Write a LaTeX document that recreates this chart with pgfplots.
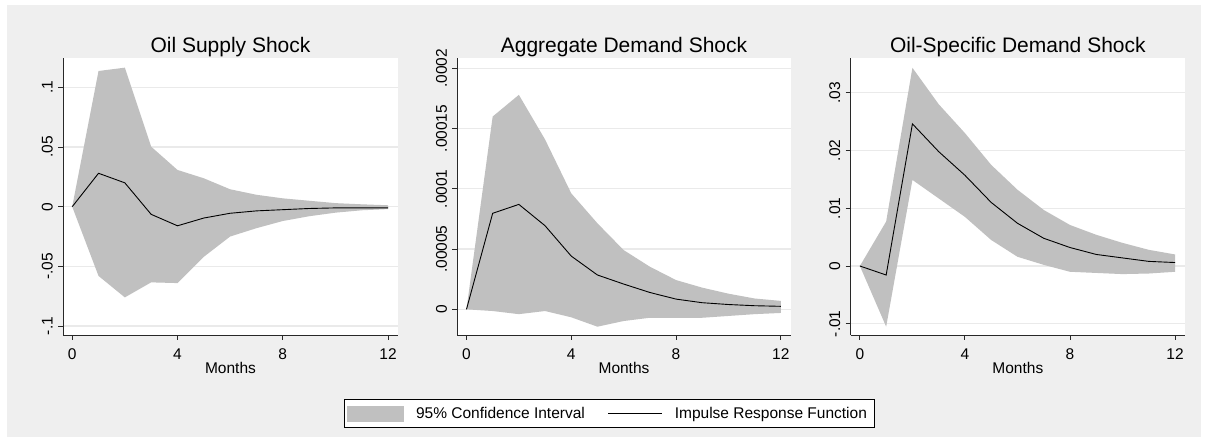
\documentclass[border=0pt]{standalone}
\usepackage{pgfplots}
\pgfplotsset{compat=1.18}
\usepgfplotslibrary{fillbetween}
\usepackage{pgfplotstable}
\usepackage{fontspec}
\setmainfont{Liberation Sans}
\definecolor{bg}{RGB}{239,239,239}
\definecolor{band}{RGB}{192,192,192}
\definecolor{gridc}{RGB}{234,234,234}
\definecolor{axc}{RGB}{40,40,40}

\pgfplotstableread{
t irf lo hi
0 0 0 0
1 0.0280 -0.0580 0.1137
2 0.0200 -0.0760 0.1165
3 -0.0064 -0.0634 0.0503
4 -0.0160 -0.0640 0.0308
5 -0.0095 -0.0420 0.0238
6 -0.0055 -0.0250 0.0146
7 -0.0035 -0.0180 0.0100
8 -0.0025 -0.0120 0.0070
9 -0.0015 -0.0080 0.0050
10 -0.0010 -0.0050 0.0030
11 -0.0010 -0.0030 0.0020
12 -0.0010 -0.0020 0.0012
}\supply

\pgfplotstableread{
t irf lo hi
0 0 0 0
1 0.0000797 -0.0000014 0.000160
2 0.0000871 -0.0000040 0.000178
3 0.0000694 -0.0000014 0.000141
4 0.0000442 -0.0000066 0.0000963
5 0.0000285 -0.0000144 0.0000714
6 0.0000210 -0.0000097 0.0000492
7 0.0000140 -0.0000070 0.0000354
8 0.0000085 -0.0000070 0.0000243
9 0.0000055 -0.0000070 0.0000180
10 0.0000040 -0.0000055 0.0000130
11 0.0000030 -0.0000040 0.0000090
12 0.0000025 -0.0000030 0.0000070
}\aggdem

\pgfplotstableread{
t irf lo hi
0 0 0 0
1 -0.00156 -0.0105 0.0077
2 0.0246 0.0149 0.0343
3 0.0198 0.0117 0.0280
4 0.0157 0.0085 0.0230
5 0.0110 0.0045 0.0175
6 0.0074 0.0016 0.0132
7 0.0048 0.0002 0.0097
8 0.0032 -0.0010 0.0071
9 0.0020 -0.0012 0.0054
10 0.0014 -0.0014 0.0040
11 0.0008 -0.0013 0.0028
12 0.0006 -0.0010 0.0020
}\oilspec

\pgfplotsset{
  irfax/.style={
    scale only axis, height=277bp,
    axis lines=left,
    axis line style={-, line width=0.9bp, draw=axc},
    axis background/.style={fill=white},
    xmin=-0.35, xmax=12.38,
    xtick={0,4,8,12}, xticklabels={0,4,8,12},
    scaled y ticks=false,
    tick align=outside, major tick length=5bp,
    tick style={draw=axc, line width=0.9bp},
    ymajorgrids, major grid style={draw=gridc, line width=1.2bp},
    xlabel={Months},
    ticklabel style={font=\fontsize{15.5bp}{18bp}\selectfont},
    label style={font=\fontsize{15.5bp}{18bp}\selectfont},
    title style={font=\fontsize{21bp}{24bp}\selectfont, at={(0.5,1)}, anchor=base, yshift=-0.7bp},
    xticklabel style={anchor=base, yshift=-19.5bp},
    yticklabel style={xshift=-5.5bp, rotate=90, anchor=base},
    xlabel style={at={(0.5,0)}, anchor=base, yshift=-39bp},
  },
  bandpl/.style={fill=band, draw=none,
    legend image code/.code={\fill[band] (0bp,-8bp) rectangle (57bp,8bp);}},
  irfpl/.style={black, line width=0.9bp, mark=none,
    legend image code/.code={\draw[black, line width=0.9bp] (0bp,0bp) -- (54bp,0bp);}},
}

\pagecolor{bg}
\begin{document}
\begin{tikzpicture}
\fill[white] (0,0) rectangle (7bp,439bp);
\fill[white] (1201bp,0) rectangle (1208bp,439bp);
\fill[white] (0,434bp) rectangle (1208bp,439bp);
\fill[white] (0,0) rectangle (1208bp,2bp);

\begin{axis}[irfax, at={(63bp,104bp)}, anchor=south west, width=335bp,
  title={Oil Supply Shock},
  ymin=-0.1075, ymax=0.1246,
  ytick={-0.1,-0.05,0,0.05,0.1}, yticklabels={-.1,-.05,0,.05,.1}]
  \addplot[name path=hi, draw=none, forget plot] table[x=t, y=hi] {\supply};
  \addplot[name path=lo, draw=none, forget plot] table[x=t, y=lo] {\supply};
  \addplot[bandpl] fill between[of=hi and lo];
  \addplot[irfpl] table[x=t, y=irf] {\supply};
\end{axis}

\begin{axis}[irfax, at={(457.3bp,104bp)}, anchor=south west, width=333.4bp,
  title={Aggregate Demand Shock},
  ymin=-0.0000213, ymax=0.0002086,
  ytick={0,0.00005,0.0001,0.00015,0.0002}, yticklabels={0,.00005,.0001,.00015,.0002},
  legend columns=2,
  legend style={at={(0.455,-0.2834)}, anchor=center, draw=black, fill=white,
    line width=0.8bp,
    font=\fontsize{15.5bp}{18bp}\selectfont,
    inner xsep=3bp, inner ysep=5bp,
    nodes={inner xsep=4bp, inner ysep=3bp},
    /tikz/every odd column/.append style={column sep=8bp},
    /tikz/every even column/.append style={column sep=19bp}},
  ]
  \addplot[name path=hi, draw=none, forget plot] table[x=t, y=hi] {\aggdem};
  \addplot[name path=lo, draw=none, forget plot] table[x=t, y=lo] {\aggdem};
  \addplot[bandpl] fill between[of=hi and lo];
  \addlegendentry{95\% Confidence Interval}
  \addplot[irfpl] table[x=t, y=irf] {\aggdem};
  \addlegendentry{Impulse Response Function}
\end{axis}

\begin{axis}[irfax, at={(850.7bp,104bp)}, anchor=south west, width=334.3bp,
  title={Oil-Specific Demand Shock},
  ymin=-0.01194, ymax=0.036,
  ytick={-0.01,0,0.01,0.02,0.03}, yticklabels={-.01,0,.01,.02,.03}]
  \addplot[name path=hi, draw=none, forget plot] table[x=t, y=hi] {\oilspec};
  \addplot[name path=lo, draw=none, forget plot] table[x=t, y=lo] {\oilspec};
  \addplot[bandpl] fill between[of=hi and lo];
  \addplot[irfpl] table[x=t, y=irf] {\oilspec};
\end{axis}
\end{tikzpicture}
\end{document}
